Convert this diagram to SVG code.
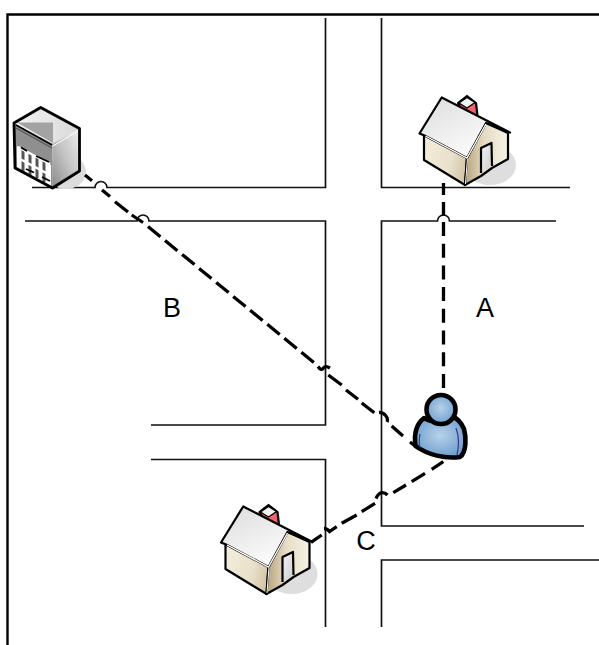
<svg xmlns="http://www.w3.org/2000/svg" width="599" height="645" viewBox="0 0 599 645">
<style>
.frame{fill:none;stroke:#000;stroke-width:2.400}
.road{fill:none;stroke:#111;stroke-width:1.700}
.conn{fill:none;stroke:#000;stroke-width:3.300}
.lbl{font-family:"Liberation Sans",Arial,sans-serif;font-size:27px;fill:#000;text-anchor:middle}
.ol{stroke:#000;stroke-width:2.200;stroke-linejoin:round}
</style>
<defs>
<linearGradient id="wallL" x1="0" y1="0" x2="1" y2="0.3"><stop offset="0" stop-color="#f6f1e4"/><stop offset="0.6" stop-color="#e9e0ca"/><stop offset="1" stop-color="#c4b490"/></linearGradient>
<linearGradient id="wallR" x1="0" y1="0" x2="1" y2="0"><stop offset="0" stop-color="#b5a37b"/><stop offset="0.45" stop-color="#e6dcc4"/><stop offset="1" stop-color="#f6f2e6"/></linearGradient>
<linearGradient id="roof" x1="0" y1="0" x2="0.7" y2="1"><stop offset="0" stop-color="#dcdcdc"/><stop offset="1" stop-color="#ffffff"/></linearGradient>
<linearGradient id="door" x1="0" y1="0" x2="1" y2="1"><stop offset="0" stop-color="#f4f4f4"/><stop offset="1" stop-color="#cccccc"/></linearGradient>
<linearGradient id="side" x1="0" y1="1" x2="1" y2="0"><stop offset="0" stop-color="#8a8a8a"/><stop offset="0.5" stop-color="#c4c4c4"/><stop offset="1" stop-color="#eeeeee"/></linearGradient>
<linearGradient id="top" x1="0" y1="0" x2="1" y2="0"><stop offset="0" stop-color="#f4f4f4"/><stop offset="1" stop-color="#d8d8d8"/></linearGradient>
<radialGradient id="blue" cx="0.5" cy="0.45" r="0.6"><stop offset="0" stop-color="#b8d2ea"/><stop offset="1" stop-color="#6a9bcb"/></radialGradient>
<g id="house">
<ellipse cx="490" cy="165" rx="26" ry="20" fill="#dedede"/>
<path d="M458 103 L467 96 L476 103 L477.500 116 L462 110Z" fill="#f0626c" class="ol"/>
<path d="M459 103 L467 97.500 L475 102.500 L467 108Z" fill="#f2f2f2" stroke="#000" stroke-width="1.300"/>
<path d="M424 135 L424 160 L465 185 L467 158 L486 123 L441 100Z" fill="url(#wallL)" class="ol"/>
<path d="M465 185 L481 176 L492 168 L508 159 L508 133 L486 123 L467 158Z" fill="url(#wallR)" class="ol"/>
<path d="M467.500 158 L465.500 184" stroke="#fff" stroke-width="1" fill="none"/>
<path d="M481 173 V148 L491.500 143 L492 166" fill="url(#door)" class="ol"/>
<path d="M441.700 97.500 L419.500 133.500 L424.500 135.500 L467 158 L486 123 L510 132.500Z" fill="url(#roof)" class="ol"/>
<path d="M425.500 136 L467 158 L486 124" fill="none" stroke="#fff" stroke-width="1.400"/>
</g>
</defs>
<g id="frame"><path class="frame" d="M7.500 645V14.500H599"/></g>
<g id="roads">
<path class="road" d="M32 187.500H95A6 6 0 0 1 107 187.500H325.500V18"/>
<path class="road" d="M381.500 18V187.500H570"/>
<path class="road" d="M25 221H137A6 6 0 0 1 149 221H325.500V425H151"/>
<path class="road" d="M556 221H449.500A6 6 0 0 0 437.500 221H381.500V526H584"/>
<path class="road" d="M151 459.500H325.500V627"/>
<path class="road" d="M599 560H381.500V627"/>
</g>
<g id="node-building">
<ellipse cx="66" cy="172" rx="20" ry="17" fill="#dcdcdc"/>
<path d="M14 123 L52.500 143.500 L52.500 188 L15 168Z" fill="#8f8f8f"/>
<path d="M14 123 L40.700 107.500 L79.500 128.500 L52.500 143.500Z" fill="url(#top)"/>
<path d="M17 122.500 H53 V143 Z" fill="#a3a3a3"/>
<path d="M52.500 143.500 L79.500 128.500 L79.500 171 L52.500 188Z" fill="url(#side)"/>
<path d="M16 125 L52 145" stroke="#000" stroke-width="1.500" fill="none"/>
<path d="M16 128 L52 148" stroke="#555" stroke-width="1.200" fill="none"/>
<path d="M17 146 L51 165 L51 186 L17 167Z" fill="#fff"/>
<g stroke="#555" stroke-width="3" fill="none">
<path d="M23 150V171"/><path d="M30 153V175"/><path d="M37 157V178"/><path d="M44 161V182"/>
</g>
<g stroke="#fff" stroke-width="2.500" fill="none">
<path d="M18 147 L50 164"/><path d="M18 158 L50 175"/>
</g>
<g stroke="#000" stroke-width="1.800" fill="none">
<path d="M21 147.500 L27 151"/><path d="M36 156 L49 162"/><path d="M26 169 L34 172.500"/><path d="M42 177 L50 181"/>
</g>
<path d="M14 123 L40.700 107.500 L79.500 128.500 L79.500 171 L52.500 188 L15 168Z" fill="none" stroke="#000" stroke-width="2.800" stroke-linejoin="round"/>
<path d="M53 146 L78 131" stroke="#fff" stroke-width="1" fill="none"/>
</g>
<g id="node-house-a"><use href="#house"/></g>
<g id="node-house-c"><use href="#house" transform="translate(-198.500 409)"/></g>
<g id="node-person">
<path d="M424 418 C415 425 414 435 415.500 446 C428 455 445 459 460 457 C467 452 466 436 464 429 C461 422 456 418 453 417 C448 423 432 423 424 418Z" fill="url(#blue)" stroke="#000" stroke-width="4.600" stroke-linejoin="round"/>
<path d="M420 434 C419 440 419 444 420 448 M456 428 C459 436 459 446 457 455 M428 419 C434 424 446 424 451 419" fill="none" stroke="#3a3a80" stroke-width="1.200"/>
<circle cx="441" cy="409.500" r="14.500" fill="url(#blue)" stroke="#000" stroke-width="4.600"/>
</g>
<g id="connectors">
<path id="conn-a" class="conn" d="M443.500 183V195M443.500 202V216M443.500 222V388" stroke-dasharray="14 7.700"/>
<path id="conn-b" class="conn" d="M85 175L92 180.700M102 190L110 196.500M115 201.700L128 212M131.700 215L143 222.500M148 226.500L160.400 236.700M165 240.500L177.400 250.700M182.100 254.400L194.500 264.600M199.100 268.400L211.500 278.600M216.200 282.400L228.600 292.600M233.200 296.400L245.600 306.600M250.200 310.300L262.600 320.500M267.300 324.300L279.700 334.500M284.300 338.300L296.700 348.500M301.400 352.200L313.800 362.400M318 366.500Q321 371 323 368.500Q325 365 330 368M328.300 375L341.700 385M346 390L358 399.300M361.700 403L374.300 412.700M379 412.500C384 412 389 418 387 422M391.700 426L403 436M410 442L419 449"/>
<path id="conn-c" class="conn" d="M443.300 461.700L431.700 469.300M425 473.300L411.700 481.700M406 485L393.300 492.700M387.500 495Q385 492.500 382 492.700Q378.500 493 376 498.500M375 503.300L361.700 511.700M356.700 515L341.700 523.300M336.700 526.700L329.500 531.500Q327 528.500 324 528.500M321.700 535L311 542.300"/>
</g>
<g id="labels">
<text class="lbl" x="485" y="317">A</text>
<text class="lbl" x="172" y="317">B</text>
<text class="lbl" x="366" y="550">C</text>
</g>
</svg>
